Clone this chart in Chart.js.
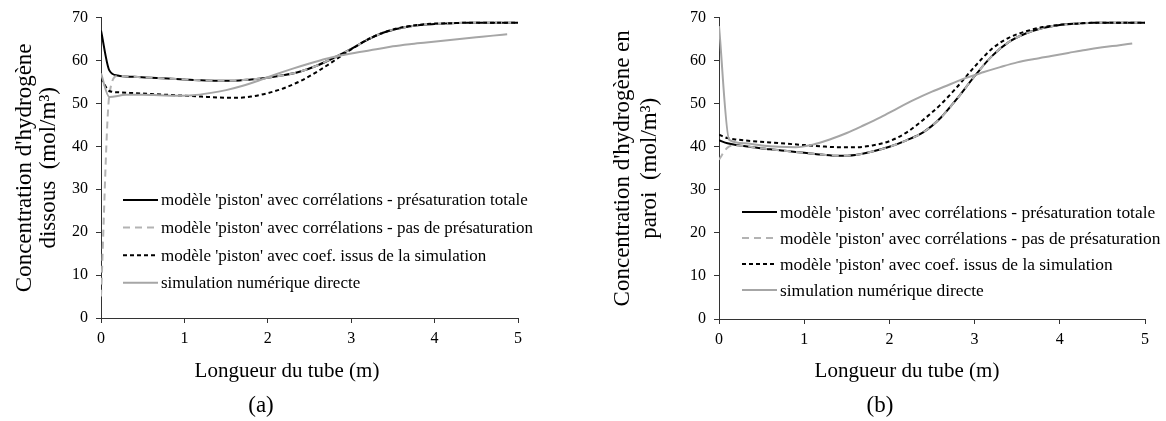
<!DOCTYPE html>
<html>
<head>
<meta charset="utf-8">
<script src="https://cdn.jsdelivr.net/npm/chart.js@4.4.1/dist/chart.umd.min.js"></script>
<style>
  html, body { margin: 0; padding: 0; background: #fff; }
  body { width: 1166px; height: 421px; position: relative; overflow: hidden; font-family: 'Liberation Serif', 'Times New Roman', serif; }
  .box { position: absolute; top: 0; height: 421px; }
  .cap { position: absolute; transform: translate(-50%, -50%); white-space: nowrap; color: #000; }
</style>
</head>
<body>
<div class="box" id="boxA" style="left:0;width:560px"><canvas id="chartA"></canvas></div>
<div class="box" id="boxB" style="left:596px;width:570px"><canvas id="chartB"></canvas></div>
<div class="cap" style="left:287px;top:370px;font-size:21px">Longueur du tube (m)</div>
<div class="cap" style="left:261px;top:405px;font-size:23px">(a)</div>
<div class="cap" style="left:907px;top:370px;font-size:21px">Longueur du tube (m)</div>
<div class="cap" style="left:880px;top:405px;font-size:23px">(b)</div>
<script>
// series labels
const LABELS = [
  "modèle 'piston' avec corrélations - présaturation totale",
  "modèle 'piston' avec corrélations - pas de présaturation",
  "modèle 'piston' avec coef. issus de la simulation",
  "simulation numérique directe"
];

// x positions (m)
const xModel = [0, 0.1, 0.2, 0.4, 0.6, 0.8, 1.0, 1.2, 1.4, 1.6, 1.8, 2.0, 2.2, 2.4, 2.6, 2.8, 3.0, 3.2, 3.4, 3.6, 3.8, 4.0, 4.2, 4.4, 4.6, 4.8, 5.0];
const xSimA  = [0, 0.1, 0.3, 0.5, 0.7, 0.9, 1.1, 1.3, 1.5, 1.7, 1.9, 2.1, 2.3, 2.5, 2.7, 2.9, 3.1, 3.3, 3.5, 3.7, 3.9, 4.1, 4.3, 4.5, 4.7, 4.87];
const xSimB  = [0, 0.12, 0.3, 0.5, 0.7, 0.9, 1.1, 1.3, 1.5, 1.7, 1.9, 2.1, 2.3, 2.5, 2.7, 2.9, 3.1, 3.3, 3.5, 3.7, 3.9, 4.1, 4.3, 4.5, 4.7, 4.85];

// (a) dissolved hydrogen
const aTotale = [67.0, 57.7, 56.5, 56.2, 56.0, 55.8, 55.6, 55.4, 55.3, 55.3, 55.6, 56.0, 56.6, 57.5, 58.9, 60.7, 62.7, 64.9, 66.6, 67.6, 68.2, 68.5, 68.7, 68.8, 68.8, 68.8, 68.8];
const aPasPre = [5.0, 52.0, 56.4, 56.2, 56.0, 55.8, 55.6, 55.4, 55.3, 55.3, 55.6, 56.0, 56.6, 57.5, 58.9, 60.7, 62.7, 64.9, 66.6, 67.6, 68.2, 68.5, 68.7, 68.8, 68.8, 68.8, 68.8];
const aCoef   = [55.8, 52.9, 52.6, 52.4, 52.2, 52.0, 51.8, 51.6, 51.4, 51.3, 51.6, 52.4, 53.6, 55.3, 57.5, 60.0, 62.6, 64.9, 66.6, 67.7, 68.3, 68.6, 68.7, 68.8, 68.8, 68.8, 68.8];
const aSim    = [57.0, 51.5, 52.0, 52.0, 51.9, 51.8, 51.9, 52.4, 53.1, 54.1, 55.4, 56.8, 58.1, 59.3, 60.4, 61.3, 62.0, 62.6, 63.3, 63.8, 64.2, 64.6, 65.0, 65.4, 65.8, 66.1];

// (b) hydrogen at the wall
const bTotale = [41.5, 40.8, 40.4, 39.9, 39.4, 39.0, 38.6, 38.2, 37.9, 38.1, 38.9, 40.0, 41.5, 43.4, 46.7, 51.3, 56.4, 61.0, 64.3, 66.3, 67.6, 68.3, 68.6, 68.8, 68.8, 68.8, 68.8];
const bPasPre = [37.0, 39.8, 40.3, 39.9, 39.4, 39.0, 38.6, 38.2, 37.9, 38.1, 38.9, 40.0, 41.5, 43.4, 46.7, 51.3, 56.4, 61.0, 64.3, 66.3, 67.6, 68.3, 68.6, 68.8, 68.8, 68.8, 68.8];
const bCoef   = [42.8, 42.0, 41.7, 41.3, 41.0, 40.7, 40.4, 40.1, 39.9, 39.9, 40.3, 41.3, 43.3, 46.3, 49.8, 54.0, 58.6, 62.7, 65.3, 66.8, 67.8, 68.3, 68.6, 68.8, 68.8, 68.8, 68.8];
const bSim    = [68.0, 41.6, 40.8, 40.3, 40.0, 39.9, 40.5, 41.7, 43.2, 45.0, 46.9, 49.0, 51.0, 52.8, 54.4, 56.0, 57.3, 58.5, 59.6, 60.4, 61.1, 61.8, 62.5, 63.1, 63.6, 64.0];

const yTicks = [0, 10, 20, 30, 40, 50, 60, 70];
const xTicks = [0, 1, 2, 3, 4, 5];

const FONT = "'Liberation Serif', 'Times New Roman', serif";
const STYLES = [
  { borderColor: '#000000', borderDash: [],     borderWidth: 2, order: 4 },
  { borderColor: '#b3b3b3', borderDash: [7, 5], borderWidth: 2, order: 3 },
  { borderColor: '#000000', borderDash: [4, 3], borderWidth: 2, order: 2 },
  { borderColor: '#a6a6a6', borderDash: [],     borderWidth: 2, order: 1 },
];

const pts = (xs, ys) => xs.map((x, i) => ({ x, y: ys[i] }));

// legend drawn inside the plot area
const innerLegend = {
  id: 'innerLegend',
  afterDraw(chart, args, opts) {
    const ctx = chart.ctx;
    ctx.save();
    ctx.font = opts.size + 'px ' + FONT;
    ctx.textBaseline = 'middle';
    ctx.fillStyle = '#000';
    chart.data.datasets.forEach((ds, i) => {
      const y = opts.y + i * opts.rowH;
      ctx.beginPath();
      ctx.setLineDash(ds.borderDash);
      ctx.strokeStyle = ds.borderColor;
      ctx.lineWidth = ds.borderWidth;
      ctx.moveTo(opts.x, y);
      ctx.lineTo(opts.x + opts.len, y);
      ctx.stroke();
      ctx.setLineDash([]);
      ctx.fillText(ds.label, opts.x + opts.len + 3, y + 1);
    });
    ctx.restore();
  }
};

function makeChart(id, cfg) {
  const series = cfg.series;
  return new Chart(document.getElementById(id), {
    type: 'line',
    data: {
      datasets: series.map((s, i) => ({
        label: LABELS[i],
        data: pts(s[0], s[1]),
        ...STYLES[i],
        pointRadius: 0,
        fill: false,
        cubicInterpolationMode: 'monotone',
      })),
    },
    options: {
      responsive: true,
      maintainAspectRatio: false,
      animation: false,
      events: [],
      layout: { padding: { left: 0, top: 16, right: cfg.padRight, bottom: 0 } },
      plugins: {
        legend: { display: false },
        tooltip: { enabled: false },
        innerLegend: cfg.legend,
      },
      scales: {
        x: {
          type: 'linear', min: 0, max: 5,
          afterBuildTicks: s => { s.ticks = xTicks.map(v => ({ value: v })); },
          afterFit: s => { s.height = cfg.xHeight; },
          border: { color: '#333', width: 1 },
          grid: { drawOnChartArea: false, drawTicks: true, tickLength: 5, color: '#333' },
          ticks: { color: '#000', padding: 6, font: { family: FONT, size: 16 } },
        },
        y: {
          type: 'linear', min: 0, max: 70,
          afterBuildTicks: s => { s.ticks = yTicks.map(v => ({ value: v })); },
          afterFit: s => { s.width = cfg.yWidth; },
          border: { color: '#333', width: 1 },
          grid: { drawOnChartArea: false, drawTicks: true, tickLength: 5, color: '#333' },
          ticks: { color: '#000', padding: 8, font: { family: FONT, size: 16 } },
          title: {
            display: true,
            text: cfg.yTitle,
            color: '#000',
            padding: { top: cfg.titlePad, bottom: 0 },
            font: { family: FONT, size: 23, lineHeight: cfg.titleLH },
          },
        },
      },
    },
    plugins: [innerLegend],
  });
}

makeChart('chartA', {
  series: [[xModel, aTotale], [xModel, aPasPre], [xModel, aCoef], [xSimA, aSim]],
  yTitle: ["Concentration d'hydrogène", 'dissous  (mol/m³)'],
  yWidth: 101, xHeight: 103, padRight: 42, titlePad: 13, titleLH: 1.05,
  legend: { x: 123, y: 200, rowH: 27.6, len: 35, size: 17 },
});

makeChart('chartB', {
  series: [[xModel, bTotale], [xModel, bPasPre], [xModel, bCoef], [xSimB, bSim]],
  yTitle: ["Concentration d'hydrogène en", 'paroi  (mol/m³)'],
  yWidth: 123, xHeight: 102, padRight: 21, titlePad: 13, titleLH: 1.2,
  legend: { x: 742 - 596, y: 212, rowH: 26, len: 35, size: 17.4 },
});
</script>
</body>
</html>
